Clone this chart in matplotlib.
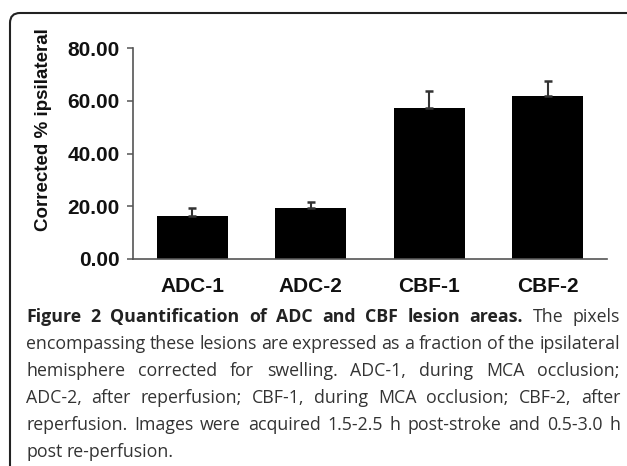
import numpy as np
import matplotlib.pyplot as plt
from matplotlib.path import Path
from matplotlib.patches import PathPatch
from matplotlib.transforms import IdentityTransform

# datos
groups = ['ADC-1', 'ADC-2', 'CBF-1', 'CBF-2']
means = [16.3, 19.3, 57.3, 61.8]
errs = [3.0, 2.3, 6.4, 5.7]
yticks = [0, 20, 40, 60, 80]

caption_bold = 'Figure 2 Quantification of ADC and CBF lesion areas.'
caption_lines = [
    'The pixels',
    'encompassing these lesions are expressed as a fraction of the ipsilateral',
    'hemisphere corrected for swelling. ADC-1, during MCA occlusion;',
    'ADC-2, after reperfusion; CBF-1, during MCA occlusion; CBF-2, after',
    'reperfusion. Images were acquired 1.5-2.5 h post-stroke and 0.5-3.0 h',
    'post re-perfusion.',
]

W, H = 627, 466
fig = plt.figure(figsize=(W / 100, H / 100), dpi=100)
ax = fig.add_axes([133 / W, (H - 259) / H, (607 - 133) / W, (259 - 48) / H])

x = np.arange(len(groups))
ax.bar(x, means, width=0.6, color='black', edgecolor='none')
ax.errorbar(x, means, yerr=[np.zeros(len(errs)), errs], fmt='none',
            ecolor='#333333', elinewidth=1.5, capsize=3, capthick=1.8)

ax.set_xlim(-0.5, 3.5)
ax.set_ylim(0, 80)
ax.set_yticks(yticks)
ax.set_yticklabels(['%.2f' % v for v in yticks])
ax.set_xticks(x)
ax.set_xticklabels(groups)

for s in ['top', 'right']:
    ax.spines[s].set_visible(False)
for s in ['left', 'bottom']:
    ax.spines[s].set_color('#555555')
    ax.spines[s].set_linewidth(1.2)

ax.tick_params(axis='y', direction='out', length=4.5, width=1.1, color='#555555', pad=5)
ax.tick_params(axis='x', length=0, pad=13)
for lab in ax.get_yticklabels() + ax.get_xticklabels():
    lab.set_family('Liberation Sans')
    lab.set_fontweight('bold')
    lab.set_fontsize(15)
    lab.set_color('#111111')

fig.text(44 / W, 1 - 129.5 / H, 'Corrected % ipsilateral', rotation=90,
         ha='center', va='center', family='Liberation Sans', fontweight='bold',
         fontsize=13.5, color='#111111')

# marco con esquina redondeada
r = 10
top = H - 13
left = 10
verts = [(left, -10), (left, top - r), (left, top), (left + r, top), (W + 10, top)]
codes = [Path.MOVETO, Path.LINETO, Path.CURVE3, Path.CURVE3, Path.LINETO]
frame = PathPatch(Path(verts, codes), facecolor='none', edgecolor='#222222',
                  linewidth=1.5, transform=IdentityTransform())
fig.add_artist(frame)

# pie de figura, justificado palabra por palabra
base = [322, 349, 376, 403, 430, 457]
cap_font = 'Open Sans'
cap_size = 12.8
x0, x1 = 26, 620
renderer = fig.canvas.get_renderer()

rows = [[(w, 'bold') for w in caption_bold.split()] + [(w, 'normal') for w in caption_lines[0].split()]]
for line in caption_lines[1:]:
    rows.append([(w, 'normal') for w in line.split()])

for i, row in enumerate(rows):
    texts = []
    for w, weight in row:
        t = fig.text(0, 1 - base[i] / H, w, ha='left', va='baseline', family=cap_font,
                     fontweight=weight, fontsize=cap_size,
                     color='#222222' if weight == 'bold' else '#333333')
        texts.append(t)
    widths = [t.get_window_extent(renderer).width for t in texts]
    if i < len(rows) - 1:
        gap = (x1 - x0 - sum(widths)) / (len(texts) - 1)
        gap = max(gap, 2.5)
    else:
        gap = 4.5
    pos = x0
    for t, wd in zip(texts, widths):
        t.set_x(pos / W)
        pos += wd + gap

fig.savefig('out.png', dpi=100)
